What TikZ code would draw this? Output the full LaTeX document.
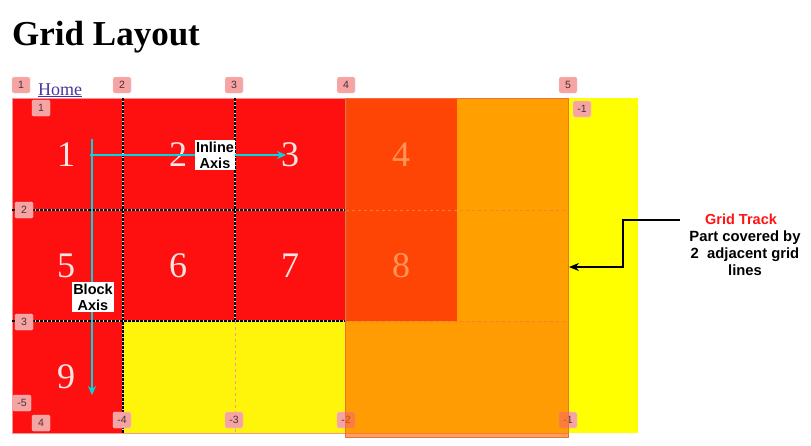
\documentclass[tikz,border=0pt]{standalone}
\usepackage{fontspec}
\setmainfont{Liberation Serif}
\newfontfamily\sansfont{Liberation Sans}
\usetikzlibrary{arrows.meta}
\definecolor{cellred}{RGB}{255,16,16}
\definecolor{gridyellow}{RGB}{255,245,10}
\definecolor{outeryellow}{RGB}{255,255,0}
\definecolor{trackorange}{RGB}{255,102,0}
\definecolor{trackedge}{RGB}{236,112,60}
\definecolor{tagpink}{RGB}{245,163,163}
\definecolor{tagedge}{RGB}{252,205,205}
\definecolor{tagtext}{RGB}{70,50,50}
\definecolor{digitpink}{RGB}{255,228,228}
\definecolor{linepink}{RGB}{245,150,150}
\definecolor{cyanline}{RGB}{0,215,225}
\definecolor{linkblue}{RGB}{75,50,160}
\definecolor{tracktitle}{RGB}{255,20,20}
\begin{document}
\begin{tikzpicture}[x = 1pt, y = -1pt,
        tag/.style = {fill = tagpink, draw = tagedge, rounded corners = 1.5pt, inner sep = 1pt,
            minimum width = 18pt, minimum height = 16pt, text = tagtext, font = \sansfont\fontsize{10.5}{10.5}\selectfont},
        digit/.style = {text = digitpink, inner sep = 0pt, font = \fontsize{36}{36}\selectfont},
        axislabel/.style = {fill = white, align = center, inner sep = 1.5pt,
            font = \sansfont\bfseries\fontsize{14.5}{16}\selectfont},
        axis/.style = {-{Stealth[length = 9pt, width = 8pt]}, cyanline, line width = 1.3pt},
        gridline/.style = {black, line width = 1.2pt, dash pattern = on 2.5pt off 1.5pt},
        trackline/.style = {linepink, line width = 0.8pt, dash pattern = on 3pt off 3pt}]
    \useasboundingbox (0, 0) rectangle (811, 445);
    % heading and link
    \node[anchor = base west, inner sep = 0pt, font = \bfseries\fontsize{35}{35}\selectfont](title) at (12, 45){Grid Layout};
    \node[anchor = base west, inner sep = 0pt, text = linkblue, font = \fontsize{18}{18}\selectfont](home) at (38, 95){\underline{Home}};
    % container and items
    \fill[outeryellow] (12, 98) rectangle (638, 433);
    \fill[gridyellow] (123, 321) rectangle (568, 433);
    \fill[cellred] (12, 98) rectangle (457, 321);
    \fill[cellred] (12, 321) rectangle (123, 433);
    \draw[linepink, line width = 0.8pt] (12, 98) rectangle (568, 433);
    % grid lines
    \draw[white!85!black, line width = 1.2pt] (123, 98) -- (123, 433);
    \draw[gridline] (123, 98) -- (123, 433);
    \draw[white!85!black, line width = 1.2pt] (235, 98) -- (235, 321);
    \draw[gridline] (235, 98) -- (235, 321);
    \draw[white!85!black, line width = 1.2pt] (12, 210) -- (346, 210);
    \draw[gridline] (12, 210) -- (346, 210);
    \draw[white!85!black, line width = 1.2pt] (12, 321) -- (346, 321);
    \draw[gridline] (12, 321) -- (346, 321);
    \draw[trackline] (235, 321) -- (235, 433);
    \draw[trackline] (346, 210) -- (568, 210);
    \draw[trackline] (346, 321) -- (568, 321);
    \draw[gridline, black!60] (346, 98) -- (346, 321);
    % item numbers
    \node[digit](n1) at (66, 155){1};
    \node[digit](n2) at (178, 155){2};
    \node[digit](n3) at (290, 155){3};
    \node[digit](n4) at (401, 155){4};
    \node[digit](n5) at (66, 266){5};
    \node[digit](n6) at (178, 266){6};
    \node[digit](n7) at (290, 266){7};
    \node[digit](n8) at (401, 266){8};
    \node[digit](n9) at (66, 377){9};
    % line numbers
    \node[tag](c1) at (21, 85){1};
    \node[tag](c2) at (122, 85){2};
    \node[tag](c3) at (234, 85){3};
    \node[tag](c4) at (346, 85){4};
    \node[tag](c5) at (568, 85){5};
    \node[tag](r1) at (41, 108){1};
    \node[tag](cm1) at (582, 109){-1};
    \node[tag](r2) at (24, 210){2};
    \node[tag](r3) at (24, 322){3};
    \node[tag](rm5) at (22, 403){-5};
    \node[tag](r4) at (41, 423){4};
    \node[tag](bm4) at (122, 420){-4};
    \node[tag](bm3) at (234, 420){-3};
    \node[tag](bm2) at (346, 420){-2};
    \node[tag](bm1) at (568, 420){-1};
    % highlighted track
    \fill[trackorange, opacity = 0.62] (345, 98) rectangle (568, 437);
    \draw[trackedge, line width = 0.9pt] (345, 98) rectangle (568, 437);
    % axes
    \coordinate(inlinestart) at (90, 155);
    \coordinate(inlineend) at (286, 155);
    \coordinate(blockstart) at (92, 139);
    \coordinate(blockend) at (92, 395);
    \draw[axis] (inlinestart) -- (inlineend);
    \draw[axis] (blockstart) -- (blockend);
    \node[axislabel](inlinelabel) at (215, 155){Inline\\Axis};
    \node[axislabel](blocklabel) at (93, 297){Block\\Axis};
    % annotation
    \node[text = tracktitle, font = \sansfont\bfseries\fontsize{14.5}{15}\selectfont](tracktitle) at (741, 219){Grid Track};
    \node[align = center, font = \sansfont\bfseries\fontsize{14.8}{17}\selectfont](tracknote) at (745, 253){Part covered by\\2\ \ adjacent grid\\lines};
    \coordinate(notestart) at (680, 220);
    \coordinate(trackend) at (569, 267);
    \draw[-{Stealth[length = 10pt, width = 8pt]}, line width = 1.3pt] (notestart) -- (623, 220) -- (623, 267) -- (trackend);
\end{tikzpicture}
\end{document}
